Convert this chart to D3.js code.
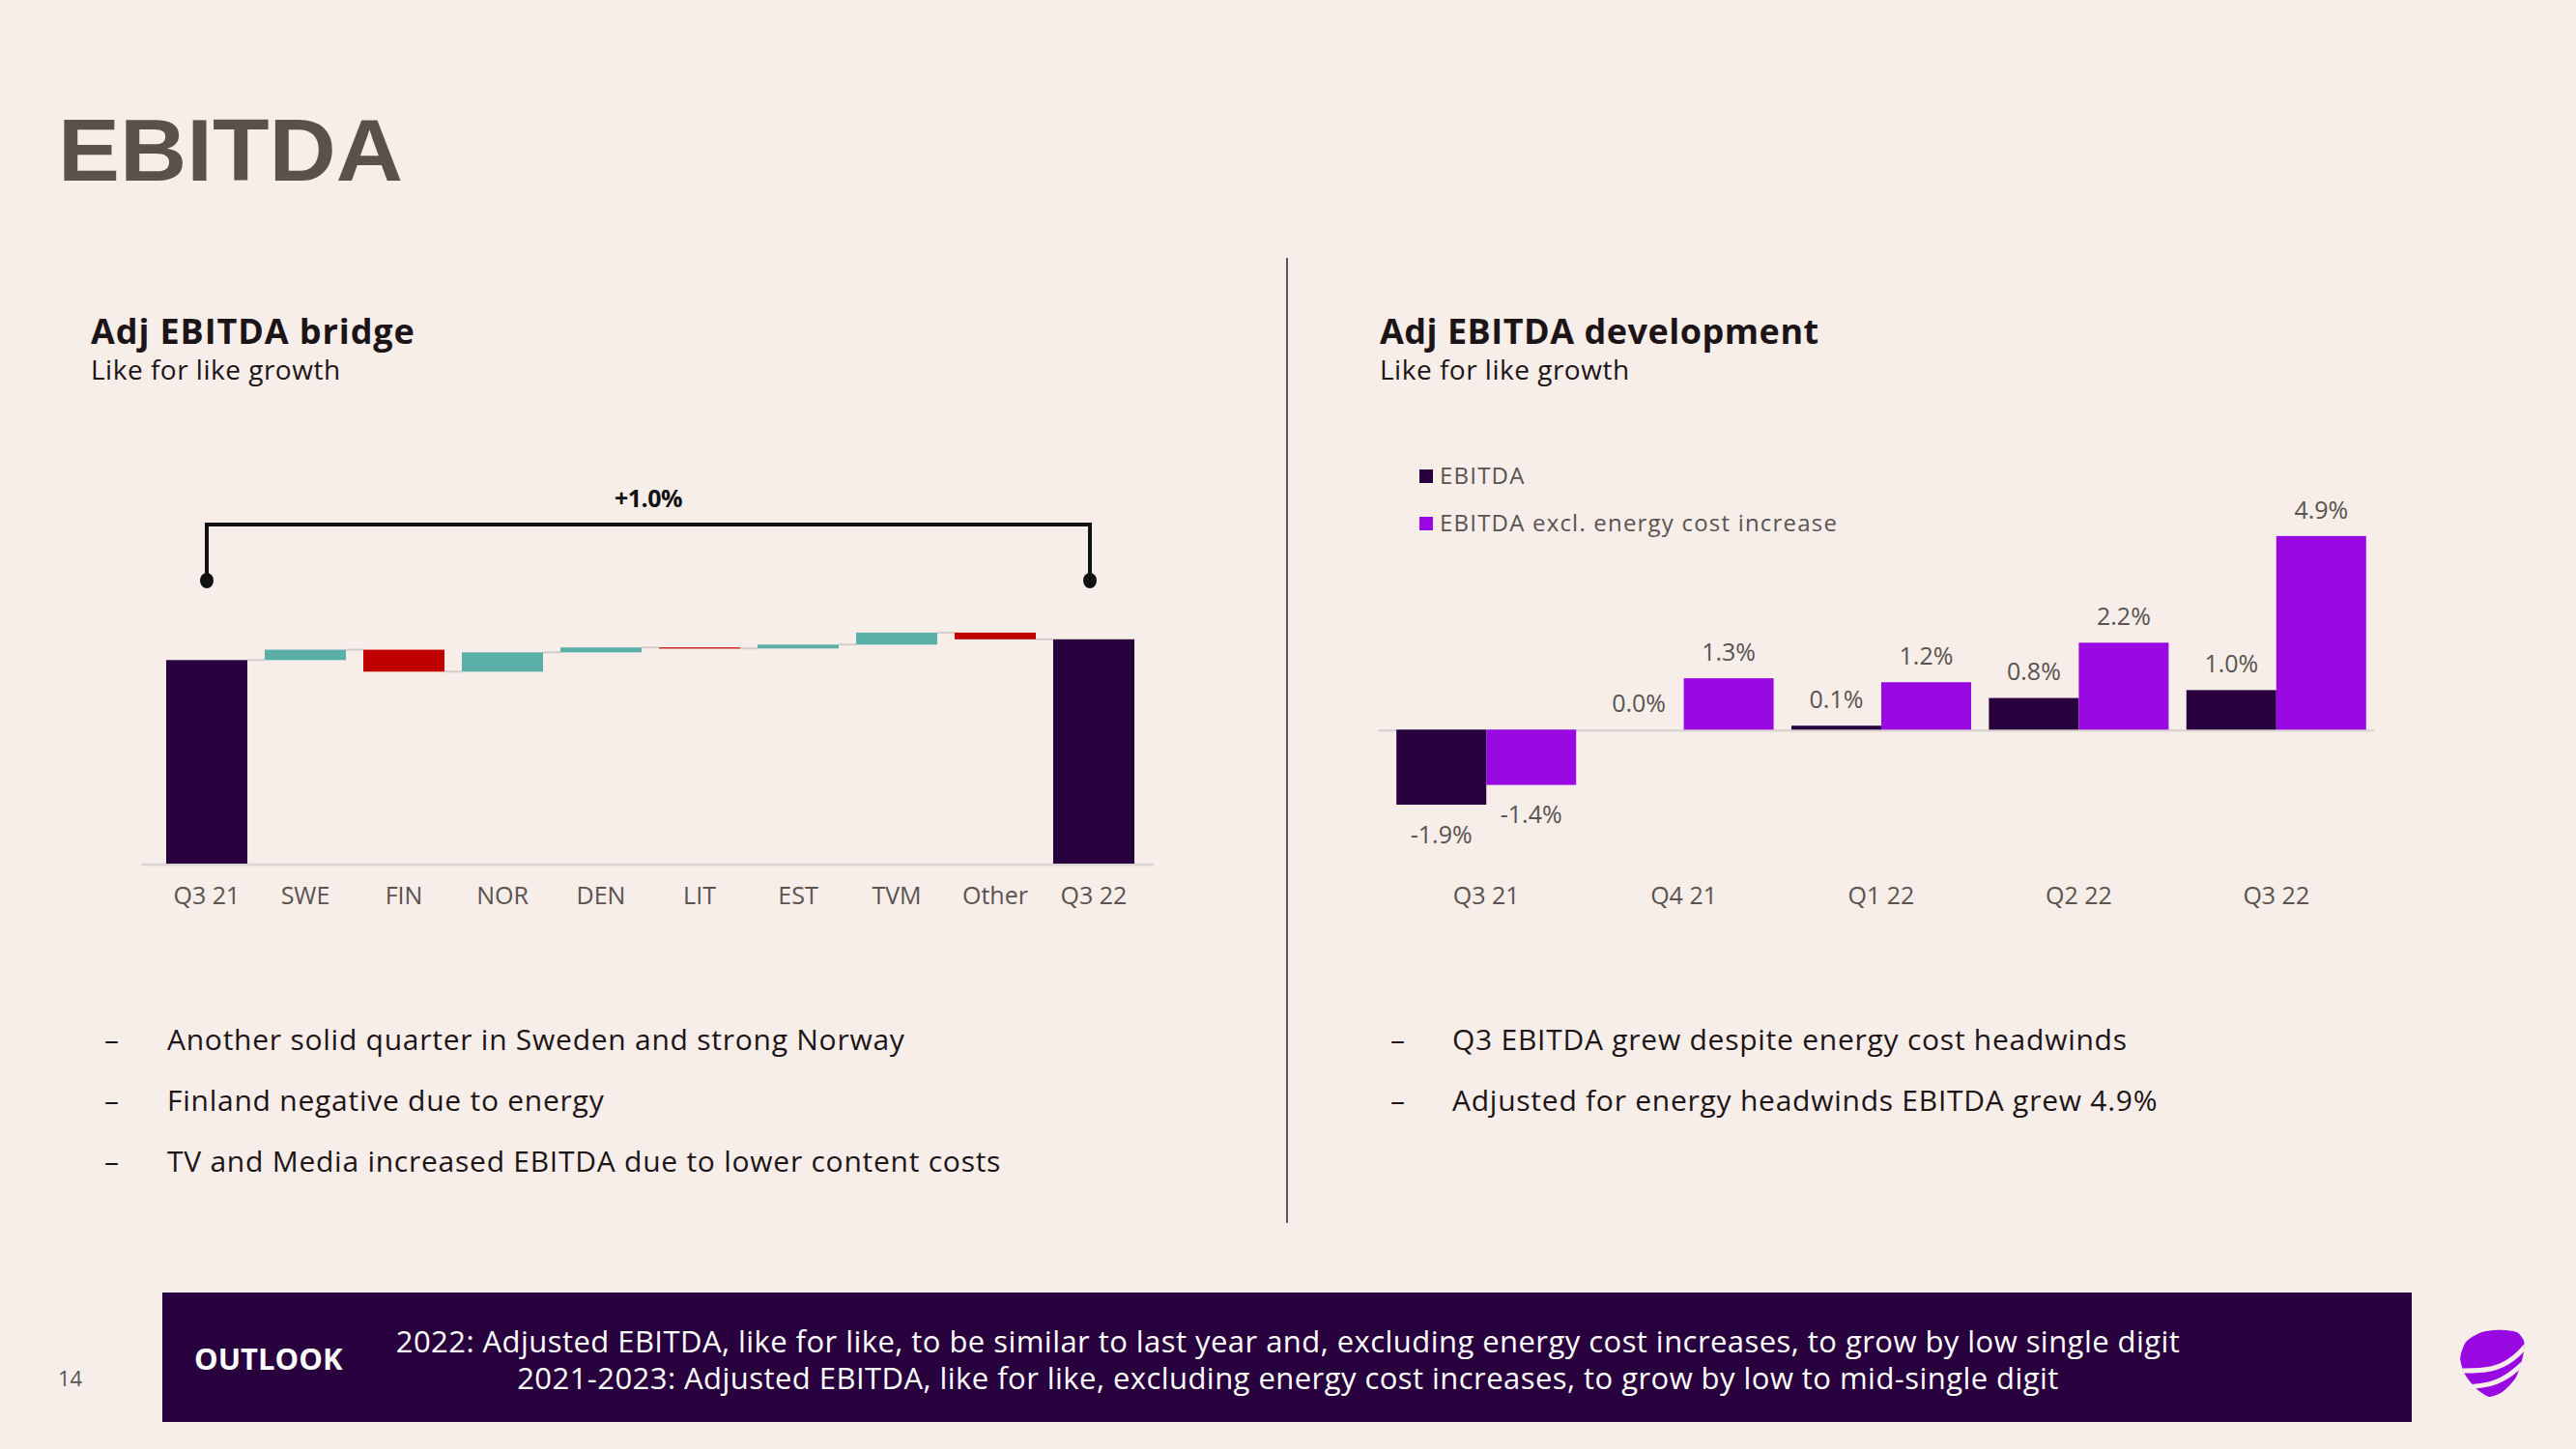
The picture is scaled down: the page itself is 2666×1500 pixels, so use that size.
<!DOCTYPE html>
<html>
<head>
<meta charset="utf-8">
<script src="https://cdn.jsdelivr.net/npm/d3@7"></script>
<style>
  html, body { margin: 0; padding: 0; background: #f7eee9; }
  svg { display: block; font-family: "Open Sans", Lato, sans-serif; }
</style>
</head>
<body>
<svg id="chart" width="2666" height="1500"></svg>
<script>
// ---------- DATA ----------
const bridgeCategories = ["Q3 21", "SWE", "FIN", "NOR", "DEN", "LIT", "EST", "TVM", "Other", "Q3 22"];
const bridgeValues = [100, 5.1, -10.8, 9.5, 2.4, -0.5, 1.9, 5.9, -3.3, 110.2]; // first/last are totals (index), rest are changes
const bridgeKinds = ["total", "delta", "delta", "delta", "delta", "delta", "delta", "delta", "delta", "total"];
const bridgeGrowthLabel = "+1.0%";

const devCategories = ["Q3 21", "Q4 21", "Q1 22", "Q2 22", "Q3 22"];
const devEbitda = [-1.9, 0.0, 0.1, 0.8, 1.0];
const devEbitdaExcl = [-1.4, 1.3, 1.2, 2.2, 4.9];
const devSeriesNames = ["EBITDA", "EBITDA excl. energy cost increase"];

const leftBullets = [
  "Another solid quarter in Sweden and strong Norway",
  "Finland negative due to energy",
  "TV and Media increased EBITDA due to lower content costs"
];
const rightBullets = [
  "Q3 EBITDA grew despite energy cost headwinds",
  "Adjusted for energy headwinds EBITDA grew 4.9%"
];
const outlookLines = [
  "2022: Adjusted EBITDA, like for like, to be similar to last year and, excluding energy cost increases, to grow by low single digit",
  "2021-2023: Adjusted EBITDA, like for like, excluding energy cost increases, to grow by low to mid-single digit"
];

// ---------- STYLE ----------
const C = {
  dark: "#29003e",
  purple: "#990ae3",
  teal: "#5aafa8",
  red: "#c00000",
  grey: "#d3cbc7",
  label: "#5a5350",
  text: "#1c1416",
  title: "#5a514c"
};

const svg = d3.select("#chart");
svg.append("rect").attr("width", 2666).attr("height", 1500).attr("fill", "#f7eee9");

// Main title
svg.append("text").attr("x", 60).attr("y", 187)
  .attr("font-family", "'Liberation Sans', Arial, sans-serif")
  .attr("font-size", 90).attr("font-weight", 700).attr("fill", C.title)
  .attr("textLength", 357).attr("lengthAdjust", "spacingAndGlyphs")
  .text("EBITDA");

// Divider
svg.append("line").attr("x1", 1332).attr("x2", 1332).attr("y1", 267).attr("y2", 1266)
  .attr("stroke", "#3b2b38").attr("stroke-width", 1.6);

// Panel titles
function panelTitle(x, title, sub, ls) {
  svg.append("text").attr("x", x).attr("y", 356).attr("font-size", 36).attr("font-weight", 700)
    .attr("fill", C.text).attr("letter-spacing", ls).text(title);
  svg.append("text").attr("x", x).attr("y", 393).attr("font-size", 28)
    .attr("fill", C.text).attr("letter-spacing", 0.5).text(sub);
}
panelTitle(94, "Adj EBITDA bridge", "Like for like growth", 0.9);
panelTitle(1428, "Adj EBITDA development", "Like for like growth", 0.5);

// ---------- WATERFALL ----------
const xb = d3.scaleBand().domain(bridgeCategories).range([163, 1183]).paddingInner(0.176).paddingOuter(0.088);
const yb = d3.scaleLinear().domain([0, 100]).range([894, 683.3]);

let running = 0;
const wf = bridgeCategories.map((c, i) => {
  let start, end;
  if (bridgeKinds[i] === "total") { start = 0; end = bridgeValues[i]; running = bridgeValues[i]; }
  else { start = running; end = running + bridgeValues[i]; running = end; }
  return { cat: c, start, end, kind: bridgeKinds[i], v: bridgeValues[i] };
});

const gW = svg.append("g");
gW.append("line").attr("x1", 146).attr("x2", 1194).attr("y1", yb(0) + 1).attr("y2", yb(0) + 1)
  .attr("stroke", "#dcd4d0").attr("stroke-width", 2.5);

wf.slice(0, -1).forEach((d, i) => {
  gW.append("line")
    .attr("x1", xb(d.cat) + xb.bandwidth()).attr("x2", xb(wf[i + 1].cat))
    .attr("y1", yb(d.end)).attr("y2", yb(d.end))
    .attr("stroke", C.grey).attr("stroke-width", 2);
});

gW.selectAll("rect.wf").data(wf).join("rect").attr("class", "wf")
  .attr("x", d => xb(d.cat)).attr("width", xb.bandwidth())
  .attr("y", d => yb(Math.max(d.start, d.end)))
  .attr("height", d => Math.max(1.2, Math.abs(yb(d.start) - yb(d.end))))
  .attr("fill", d => d.kind === "total" ? C.dark : (d.v >= 0 ? C.teal : C.red));

gW.selectAll("text.cat").data(bridgeCategories).join("text").attr("class", "cat")
  .attr("x", d => xb(d) + xb.bandwidth() / 2).attr("y", 927).attr("dy", "0.35em")
  .attr("text-anchor", "middle").attr("font-size", 25).attr("fill", C.label).text(d => d);

const bx1 = xb(bridgeCategories[0]) + xb.bandwidth() / 2;
const bx2 = xb(bridgeCategories[bridgeCategories.length - 1]) + xb.bandwidth() / 2 - 4;
gW.append("path")
  .attr("d", `M${bx1},600 V543 H${bx2} V600`)
  .attr("fill", "none").attr("stroke", "#111").attr("stroke-width", 4);
[bx1, bx2].forEach(x => gW.append("ellipse").attr("cx", x).attr("cy", 601).attr("rx", 7).attr("ry", 8).attr("fill", "#111"));
gW.append("text").attr("x", (bx1 + bx2) / 2).attr("y", 516).attr("dy", "0.35em")
  .attr("text-anchor", "middle").attr("font-size", 25).attr("font-weight", 700).attr("fill", "#111")
  .attr("letter-spacing", -0.5).text(bridgeGrowthLabel);

// ---------- GROUPED BARS ----------
const x0 = d3.scaleBand().domain(devCategories).range([1436, 2458]).paddingInner(0.09).paddingOuter(0.045);
const x1 = d3.scaleBand().domain([0, 1]).range([0, x0.bandwidth()]);
const yd = d3.scaleLinear().domain([-2, 5]).range([755.3 + 2 * 40.9, 755.3 - 5 * 40.9]);

const gD = svg.append("g");
gD.append("line").attr("x1", 1426).attr("x2", 2457).attr("y1", yd(0) + 1).attr("y2", yd(0) + 1)
  .attr("stroke", "#dcd4d0").attr("stroke-width", 2.5);

const devData = [];
devCategories.forEach((c, i) => {
  devData.push({ cat: c, s: 0, v: devEbitda[i] });
  devData.push({ cat: c, s: 1, v: devEbitdaExcl[i] });
});
gD.selectAll("rect.dev").data(devData).join("rect").attr("class", "dev")
  .attr("x", d => x0(d.cat) + x1(d.s)).attr("width", x1.bandwidth())
  .attr("y", d => yd(Math.max(0, d.v)))
  .attr("height", d => Math.abs(yd(d.v) - yd(0)))
  .attr("fill", d => d.s === 0 ? C.dark : C.purple);

const fmt = v => d3.format(".1f")(v).replace("\u2212", "-") + "%";
gD.selectAll("text.val").data(devData).join("text").attr("class", "val")
  .attr("x", d => x0(d.cat) + x1(d.s) + x1.bandwidth() / 2)
  .attr("y", d => d.v >= 0 ? yd(d.v) - 27 : yd(d.v) + 31).attr("dy", "0.35em")
  .attr("text-anchor", "middle").attr("font-size", 25).attr("fill", C.label)
  .text(d => fmt(d.v));

gD.selectAll("text.cat").data(devCategories).join("text").attr("class", "cat")
  .attr("x", d => x0(d) + x0.bandwidth() / 2).attr("y", 927).attr("dy", "0.35em")
  .attr("text-anchor", "middle").attr("font-size", 25).attr("fill", C.label).text(d => d);

devSeriesNames.forEach((n, i) => {
  const y = 493 + i * 49;
  gD.append("rect").attr("x", 1469).attr("y", y - 7).attr("width", 14).attr("height", 14)
    .attr("fill", i === 0 ? C.dark : C.purple);
  gD.append("text").attr("x", 1490).attr("y", y).attr("dy", "0.35em")
    .attr("font-size", 24).attr("letter-spacing", 1.2).attr("fill", C.label).text(n);
});

// ---------- BULLETS ----------
function bullets(xDash, xText, lines) {
  lines.forEach((t, i) => {
    const y = 1087 + i * 63;
    svg.append("text").attr("x", xDash).attr("y", y).attr("font-size", 30).attr("fill", C.text).text("–");
    svg.append("text").attr("x", xText).attr("y", y).attr("font-size", 30).attr("letter-spacing", 0.75)
      .attr("fill", C.text).text(t);
  });
}
bullets(108, 173, leftBullets);
bullets(1439, 1503, rightBullets);

// ---------- OUTLOOK ----------
svg.append("rect").attr("x", 168).attr("y", 1338).attr("width", 2328).attr("height", 134).attr("fill", C.dark);
svg.append("text").attr("x", 201).attr("y", 1407).attr("dy", "0.35em").attr("font-size", 31)
  .attr("font-weight", 700).attr("fill", "#fff").text("OUTLOOK");
outlookLines.forEach((t, i) => {
  svg.append("text").attr("x", 1333).attr("y", 1389 + i * 38).attr("dy", "0.35em")
    .attr("text-anchor", "middle").attr("font-size", 31).attr("letter-spacing", 0.45)
    .attr("fill", "#fff").text(t);
});

svg.append("text").attr("x", 60).attr("y", 1427).attr("dy", "0.35em").attr("font-size", 22)
  .attr("fill", "#555").text("14");

// ---------- LOGO ----------
const logoPts = [[2546, 1406], [2552, 1389], [2568, 1379], [2587, 1376.5], [2605, 1379], [2612.5, 1389],
  [2611, 1405], [2604, 1426], [2590, 1441], [2576, 1446], [2563, 1438], [2551, 1423]];
const logoPath = d3.line().curve(d3.curveCardinalClosed.tension(0.3))(logoPts);
const defs = svg.append("defs");
defs.append("clipPath").attr("id", "logoClip").append("path").attr("d", logoPath);
const gL = svg.append("g").attr("clip-path", "url(#logoClip)");
gL.append("path").attr("d", logoPath).attr("fill", C.purple);
const stripe = d3.line().curve(d3.curveBasis);
gL.append("path").attr("d", stripe([[2545, 1419], [2580, 1419], [2602, 1407], [2616, 1391]]))
  .attr("fill", "none").attr("stroke", "#f7eee9").attr("stroke-width", 5);
gL.append("path").attr("d", stripe([[2548, 1436], [2580, 1434], [2600, 1422], [2614, 1409]]))
  .attr("fill", "none").attr("stroke", "#f7eee9").attr("stroke-width", 5);
</script>
</body>
</html>
